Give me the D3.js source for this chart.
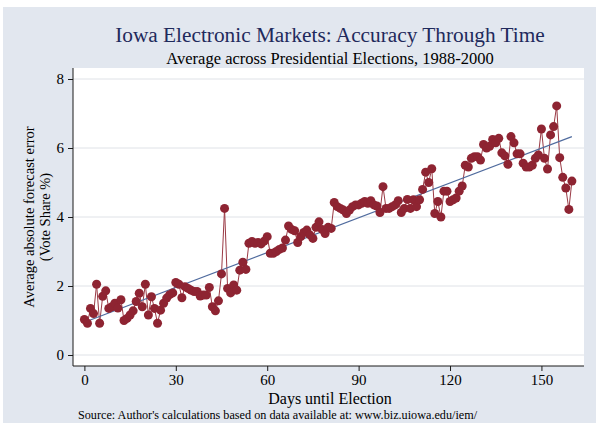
<!DOCTYPE html>
<html>
<head>
<meta charset="utf-8">
<script src="https://cdn.jsdelivr.net/npm/d3@7"></script>
<style>
  body { margin: 0; background: #fff; }
  text { font-family: "Liberation Serif", "Times New Roman", serif; }
</style>
</head>
<body>
<div id="chart"></div>
<script>
// average absolute forecast error by days until election (day 0..160)
var errorValues = [
  1.03, 0.92, 1.35, 1.2, 2.05, 0.92, 1.7, 1.86, 1.35, 1.4,
  1.5, 1.36, 1.6, 1.0, 1.06, 1.16, 1.28, 1.55, 1.79, 1.4,
  2.05, 1.16, 1.69, 1.35, 0.92, 1.3, 1.5, 1.65, 1.75, 1.8,
  2.1, 2.05, 1.66, 1.98, 1.93, 1.88, 1.84, 1.84, 1.71, 1.74,
  1.74, 1.96, 1.4, 1.28, 1.57, 2.35, 4.25, 1.93, 1.8, 2.03,
  1.88, 2.46, 2.69, 2.48, 3.24, 3.29, 3.24, 3.26, 3.22, 3.3,
  3.43, 2.95, 2.95, 3.0, 3.06, 3.1, 3.33, 3.74, 3.64, 3.6,
  3.26, 3.43, 3.55, 3.62, 3.48, 3.38, 3.7, 3.86, 3.64, 3.52,
  3.7, 3.67, 4.42, 4.3, 4.25, 4.2, 4.1, 4.2, 4.3, 4.35,
  4.35, 4.4, 4.45, 4.4, 4.47, 4.35, 4.32, 4.13, 4.88, 4.25,
  4.25, 4.3, 4.35, 4.47, 4.13, 4.25, 4.51, 4.25, 4.5, 4.3,
  4.5, 4.8, 5.3, 5.0, 5.4, 4.1, 4.45, 4.0, 4.75, 4.75,
  4.45, 4.5, 4.55, 4.75, 4.9, 5.5, 5.45, 5.7, 5.75, 5.75,
  5.65, 6.1, 6.0, 6.05, 6.25, 6.15, 6.28, 5.86, 5.77, 5.53,
  6.33, 6.15, 5.83, 5.83, 5.56, 5.45, 5.45, 5.5, 5.7, 5.8,
  6.55, 5.7, 5.39, 6.38, 6.62, 7.22, 5.72, 5.15, 4.84, 4.22,
  5.04
];
var days = errorValues.map(function(v, i){ return i; });
var xTicks = [0, 30, 60, 90, 120, 150];
var yTicks = [0, 2, 4, 6, 8];

var width = 604, height = 425;
var plot = {left: 73, right: 584, top: 68, bottom: 366};

var svg = d3.select("#chart").append("svg")
    .attr("width", width).attr("height", height);

// graph region
svg.append("rect")
    .attr("x", 3).attr("y", 7)
    .attr("width", 593).attr("height", 416)
    .attr("fill", "#e2e7ef");

// plot region
svg.append("rect")
    .attr("x", plot.left).attr("y", plot.top)
    .attr("width", plot.right - plot.left).attr("height", plot.bottom - plot.top)
    .attr("fill", "#ffffff");

var x = d3.scaleLinear().domain([0, 160]).range([84.4, 571.9]);
var y = d3.scaleLinear().domain([0, 8]).range([355, 79]);

//Grid
svg.selectAll(".grid")
    .data(yTicks)
    .enter()
    .append("line")
    .attr("x1", plot.left).attr("x2", plot.right)
    .attr("y1", function(d){ return y(d); })
    .attr("y2", function(d){ return y(d); })
    .style("stroke", "#dfe2e7")
    .style("stroke-width", 1);

//Axes
var yAxis = svg.append("g")
    .attr("transform", "translate(" + plot.left + ",0)")
    .call(d3.axisLeft(y).tickValues(yTicks).tickSize(5).tickPadding(4));
yAxis.select(".domain").attr("d", "M0," + plot.top + "V" + plot.bottom);

var xAxis = svg.append("g")
    .attr("transform", "translate(0," + plot.bottom + ")")
    .call(d3.axisBottom(x).tickValues(xTicks).tickSize(5).tickPadding(3));
xAxis.select(".domain").attr("d", "M" + plot.left + ",0H" + plot.right);

svg.selectAll(".domain").style("stroke", "#1a1a1a").style("stroke-width", 1);
svg.selectAll(".tick line").style("stroke", "#1a1a1a");
svg.selectAll(".tick text")
    .style("font-family", "Liberation Serif")
    .style("font-size", "15px")
    .style("fill", "#000");

// connected series
var pts = days.map(function(d, i){ return {day: d, v: errorValues[i]}; });

var line = d3.line()
    .x(function(d){ return x(d.day); })
    .y(function(d){ return y(d.v); });

svg.append("path")
    .datum(pts)
    .attr("d", line)
    .attr("fill", "none")
    .style("stroke", "#9a3a45")
    .style("stroke-width", 1);

// linear fit
var mx = d3.mean(days), my = d3.mean(errorValues);
var sxy = d3.sum(pts, function(d){ return (d.day - mx) * (d.v - my); });
var sxx = d3.sum(pts, function(d){ return (d.day - mx) * (d.day - mx); });
var slope = sxy / sxx, intercept = my - slope * mx;
var fit = [0, 160].map(function(d){ return {day: d, v: intercept + slope * d}; });

svg.append("path")
    .datum(fit)
    .attr("d", line)
    .attr("fill", "none")
    .style("stroke", "#4f6b9e")
    .style("stroke-width", 1.2);

// markers
svg.selectAll(".dot")
    .data(pts)
    .enter()
    .append("circle")
    .attr("class", "dot")
    .attr("cx", function(d){ return x(d.day); })
    .attr("cy", function(d){ return y(d.v); })
    .attr("r", 4.5)
    .style("fill", "#8e2432");

//Text
svg.append("text")
    .attr("x", 330).attr("y", 42)
    .attr("text-anchor", "middle")
    .style("font-size", "21.3px")
    .style("fill", "#1f2a5c")
    .text("Iowa Electronic Markets: Accuracy Through Time");

svg.append("text")
    .attr("x", 330).attr("y", 64)
    .attr("text-anchor", "middle")
    .style("font-size", "16.5px")
    .style("fill", "#000")
    .text("Average across Presidential Elections, 1988-2000");

var yTitle = svg.append("text")
    .attr("transform", "translate(34,217) rotate(-90)")
    .attr("text-anchor", "middle")
    .style("font-size", "14.5px")
    .style("fill", "#000");
yTitle.append("tspan").attr("x", 0).attr("dy", 0).text("Average absolute forecast error");
yTitle.append("tspan").attr("x", 0).attr("dy", 16).text("(Vote Share %)");

svg.append("text")
    .attr("x", 330).attr("y", 404)
    .attr("text-anchor", "middle")
    .style("font-size", "16px")
    .style("fill", "#000")
    .text("Days until Election");

svg.append("text")
    .attr("x", 78).attr("y", 419)
    .style("font-size", "12.2px")
    .style("fill", "#000")
    .text("Source: Author's calculations based on data available at: www.biz.uiowa.edu/iem/");
</script>
</body>
</html>
